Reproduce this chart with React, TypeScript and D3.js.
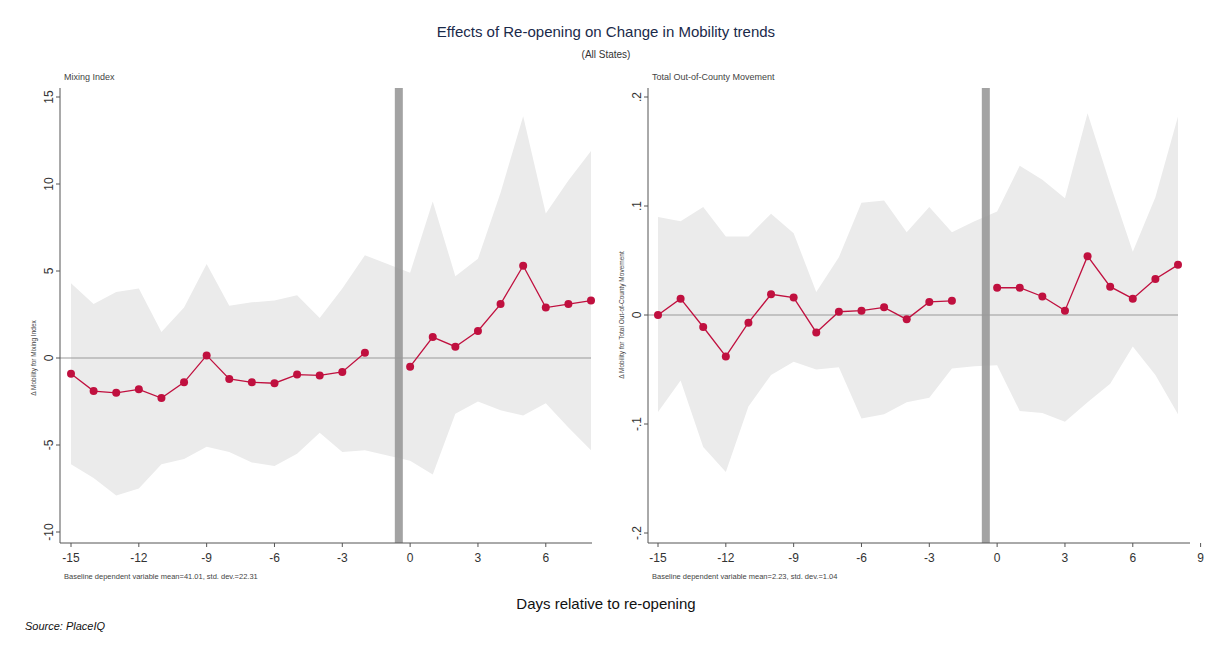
import React from "react";
import * as d3 from "d3";

const days = [-15,-14,-13,-12,-11,-10,-9,-8,-7,-6,-5,-4,-3,-2,0,1,2,3,4,5,6,7,8];
const bandDays = [-15,-14,-13,-12,-11,-10,-9,-8,-7,-6,-5,-4,-3,-2,-1,0,1,2,3,4,5,6,7,8];

const mixEst = [-0.9,-1.9,-2.0,-1.8,-2.3,-1.4,0.15,-1.2,-1.4,-1.45,-0.95,-1.0,-0.8,0.3,-0.5,1.2,0.65,1.55,3.1,5.3,2.9,3.1,3.3];
const mixHi = [4.3,3.1,3.8,4.0,1.5,2.9,5.4,3.0,3.2,3.3,3.6,2.3,4.0,5.9,5.4,4.9,9.0,4.7,5.7,9.5,13.9,8.3,10.2,11.9];
const mixLo = [-6.1,-6.9,-7.9,-7.5,-6.1,-5.8,-5.1,-5.4,-6.0,-6.2,-5.5,-4.3,-5.4,-5.3,-5.6,-5.9,-6.7,-3.2,-2.5,-3.0,-3.3,-2.6,-4.0,-5.3];

const oocEst = [0.0,0.015,-0.011,-0.038,-0.007,0.019,0.016,-0.016,0.003,0.004,0.007,-0.004,0.012,0.013,0.025,0.025,0.017,0.004,0.054,0.026,0.015,0.033,0.046];
const oocHi = [0.090,0.086,0.099,0.072,0.072,0.093,0.075,0.021,0.053,0.103,0.105,0.076,0.099,0.076,0.086,0.095,0.137,0.124,0.107,0.185,0.12,0.058,0.108,0.182];
const oocLo = [-0.089,-0.060,-0.121,-0.144,-0.084,-0.055,-0.043,-0.050,-0.048,-0.095,-0.091,-0.080,-0.076,-0.049,-0.047,-0.046,-0.088,-0.090,-0.098,-0.080,-0.063,-0.029,-0.055,-0.091];

const mixTicks = [-10,-5,0,5,10,15];
const oocTicks = [-0.2,-0.1,0,0.1,0.2];
const xTicksLeft = [-15,-12,-9,-6,-3,0,3,6];
const xTicksRight = [-15,-12,-9,-6,-3,0,3,6,9];

const RED = "#c0103f";
const FONT = "Arial, 'Liberation Sans', sans-serif";

type PanelProps = {
  axisX: number; x0: number; xEnd: number; axisRight: number;
  yDomain: [number, number]; yRange: [number, number];
  est: number[]; hi: number[]; lo: number[]; yTicks: number[]; xTicks: number[];
  fmt: (v: number) => string; title: string; yTitle: string; note: string;
};

function Panel(p: PanelProps) {
  const x = d3.scaleLinear().domain([-15, 8]).range([p.x0, p.xEnd]);
  const y = d3.scaleLinear().domain(p.yDomain).range(p.yRange);
  const top = 88, bottom = 543;
  const area = d3.area<number>().x((_, i) => x(bandDays[i])).y0((_, i) => y(p.lo[i])).y1((_, i) => y(p.hi[i]));
  const pre = days.map((d, i) => [d, p.est[i]] as [number, number]).filter(v => v[0] < 0);
  const post = days.map((d, i) => [d, p.est[i]] as [number, number]).filter(v => v[0] >= 0);
  const line = d3.line<[number, number]>().x(v => x(v[0])).y(v => y(v[1]));
  return (
    <g fontFamily={FONT}>
      <path d={area(bandDays) || ""} fill="#ebebeb" />
      <line x1={p.axisX} x2={p.xEnd} y1={y(0)} y2={y(0)} stroke="#999" strokeWidth={1} />
      <rect x={x(-0.5) - 4} y={top} width={8} height={bottom - top} fill="#999" opacity={0.9} />
      <path d={line(pre) || ""} fill="none" stroke={RED} strokeWidth={1.3} />
      <path d={line(post) || ""} fill="none" stroke={RED} strokeWidth={1.3} />
      {days.map((d, i) => <circle key={d} cx={x(d)} cy={y(p.est[i])} r={4} fill={RED} />)}
      <line x1={p.axisX} x2={p.axisX} y1={top} y2={bottom} stroke="#555" />
      <line x1={p.axisX} x2={p.axisRight} y1={bottom} y2={bottom} stroke="#555" />
      {p.yTicks.map(t => (
        <g key={t}>
          <line x1={p.axisX - 4} x2={p.axisX} y1={y(t)} y2={y(t)} stroke="#555" />
          <text transform={`translate(${p.axisX - 7},${y(t)}) rotate(-90)`} textAnchor="middle" fontSize={12} fill="#333">{p.fmt(t)}</text>
        </g>
      ))}
      {p.xTicks.map(t => (
        <g key={t}>
          <line x1={x(t)} x2={x(t)} y1={bottom} y2={bottom + 4} stroke="#555" />
          <text x={x(t)} y={bottom + 19} textAnchor="middle" fontSize={12} fill="#333">{t}</text>
        </g>
      ))}
      <text x={p.axisX + 4} y={80} fontSize={9} fill="#444">{p.title}</text>
      <text transform={`translate(${p.axisX - 24},${y(0)}) rotate(-90)`} textAnchor="middle" fontSize={6.5} fill="#444">{p.yTitle}</text>
      <text x={p.axisX + 4} y={579} fontSize={7.5} fill="#444">{p.note}</text>
    </g>
  );
}

const fmtOoc = (v: number) => v === 0 ? "0" : (v < 0 ? "-" : "") + "." + String(Math.round(Math.abs(v) * 10));

export default function App() {
  return (
    <svg width={1208} height={647} style={{ position: "absolute", left: 0, top: 0, background: "#fff" }}>
      <rect width={1208} height={647} fill="#fff" />
      <text x={606} y={37} textAnchor="middle" fontFamily={FONT} fontSize={15} fill="#1a2a4a">Effects of Re-opening on Change in Mobility trends</text>
      <text x={606} y={58} textAnchor="middle" fontFamily={FONT} fontSize={10} fill="#333">(All States)</text>
      <Panel axisX={60} x0={71} xEnd={591} axisRight={592} yDomain={[0, 5]} yRange={[358, 271]}
        est={mixEst} hi={mixHi} lo={mixLo} yTicks={mixTicks} xTicks={xTicksLeft} fmt={v => String(v)}
        title="Mixing Index" yTitle="Δ Mobility for Mixing Index" note="Baseline dependent variable mean=41.01, std. dev.=22.31" />
      <Panel axisX={648} x0={658} xEnd={1178} axisRight={1190} yDomain={[0, 0.2]} yRange={[315, 97]}
        est={oocEst} hi={oocHi} lo={oocLo} yTicks={oocTicks} xTicks={xTicksRight} fmt={fmtOoc}
        title="Total Out-of-County Movement" yTitle="Δ Mobility for Total Out-of-County Movement" note="Baseline dependent variable mean=2.23, std. dev.=1.04" />
      <text x={606} y={609} textAnchor="middle" fontFamily={FONT} fontSize={15} fill="#111">Days relative to re-opening</text>
      <text x={25} y={630} fontFamily={FONT} fontSize={11} fontStyle="italic" fill="#111">Source: PlaceIQ</text>
    </svg>
  );
}
